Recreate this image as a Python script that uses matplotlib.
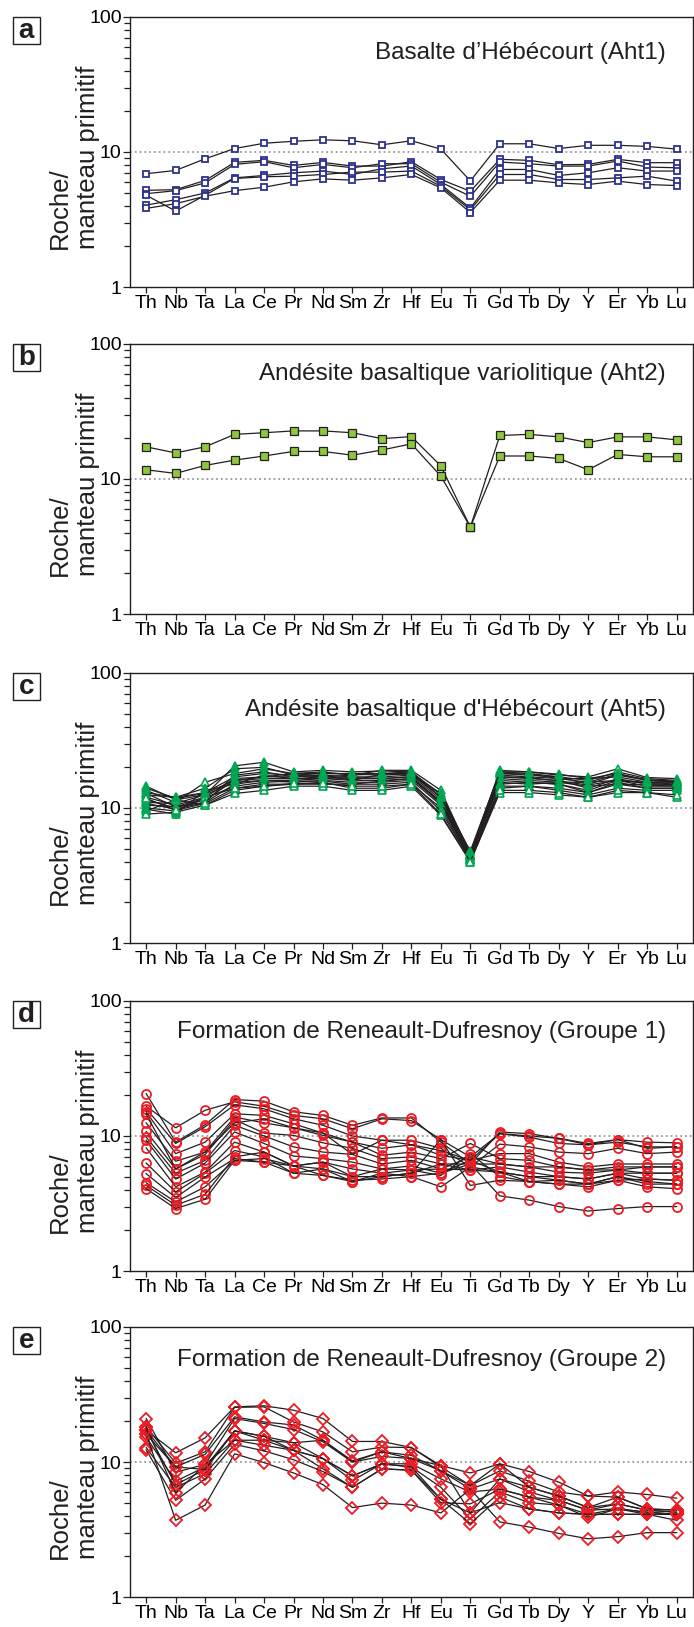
import matplotlib
matplotlib.use("Agg")
import matplotlib.pyplot as plt
import matplotlib.ticker as mt
from matplotlib.patches import Rectangle

plt.rcParams['font.family'] = ['Liberation Sans', 'DejaVu Sans']

elements = ["Th", "Nb", "Ta", "La", "Ce", "Pr", "Nd", "Sm", "Zr", "Hf",
            "Eu", "Ti", "Gd", "Tb", "Dy", "Y", "Er", "Yb", "Lu"]

titles = ["Basalte d\u2019Hébécourt (Aht1)",
          "Andésite basaltique variolitique (Aht2)",
          "Andésite basaltique d'Hébécourt (Aht5)",
          "Formation de Reneault-Dufresnoy (Groupe 1)",
          "Formation de Reneault-Dufresnoy (Groupe 2)"]
letters = ["a", "b", "c", "d", "e"]
ylabel = "Roche/\nmanteau primitif"

# a - Aht1
aht1 = [
    [6.9, 7.3, 8.9, 10.6, 11.6, 12.0, 12.3, 12.1, 11.3, 12.1, 10.5, 6.1, 11.5, 11.5, 10.6, 11.2, 11.2, 11.0, 10.5],
    [5.20, 5.26, 6.15, 8.37, 8.67, 7.95, 8.37, 7.86, 7.86, 8.47, 6.25, 5.12, 8.82, 8.67, 8.04, 8.09, 8.82, 8.33, 8.33],
    [4.91, 5.17, 5.90, 8.09, 8.47, 7.64, 8.09, 7.64, 8.18, 8.18, 5.97, 4.70, 8.42, 8.18, 7.86, 7.86, 8.57, 7.73, 7.64],
    [4.04, 4.43, 4.97, 6.43, 6.70, 7.01, 7.22, 6.81, 7.51, 7.86, 5.74, 3.84, 7.42, 7.42, 6.70, 7.01, 7.64, 7.22, 7.22],
    [4.78, 3.65, 4.78, 6.36, 6.55, 6.62, 6.81, 7.09, 7.09, 7.22, 5.57, 3.73, 6.81, 6.81, 6.25, 6.25, 6.43, 6.62, 6.08],
    [3.82, 4.14, 4.70, 5.17, 5.48, 6.01, 6.32, 6.18, 6.43, 6.81, 5.42, 3.56, 6.18, 6.18, 5.90, 5.74, 6.08, 5.74, 5.64],
]

# b - Aht2
aht2 = [
    [17.3, 15.6, 17.3, 21.4, 22.0, 22.7, 22.7, 22.0, 19.9, 20.6, 12.5, 4.4, 21.0, 21.4, 20.5, 18.6, 20.5, 20.5, 19.5],
    [11.7, 11.0, 12.6, 13.8, 14.8, 16.0, 16.0, 15.0, 16.4, 18.2, 10.5, 4.4, 14.8, 14.8, 14.2, 11.7, 15.2, 14.6, 14.6],
]

# c - Aht5
aht5 = [
    [14.5, 11.5, 12.5, 20.5, 21.8, 18.5, 19.0, 18.5, 18.8, 18.5, 12.5, 4.6, 18.5, 18.0, 17.0, 16.0, 18.5, 16.5, 16.0],
    [13.5, 11.0, 15.5, 18.0, 19.5, 18.0, 18.5, 17.5, 19.0, 19.0, 13.5, 4.5, 19.0, 18.5, 17.5, 17.0, 19.5, 16.8, 16.5],
    [12.5, 12.0, 13.0, 17.0, 18.0, 17.5, 18.0, 17.8, 17.5, 18.0, 12.0, 4.4, 18.0, 17.5, 17.0, 15.0, 17.5, 16.0, 15.5],
    [12.0, 10.5, 12.0, 16.5, 17.0, 17.0, 17.5, 17.0, 17.0, 17.5, 11.5, 4.4, 17.5, 17.0, 16.5, 16.5, 17.0, 15.5, 15.5],
    [11.5, 10.0, 11.5, 16.0, 16.5, 16.5, 17.0, 16.5, 16.5, 17.0, 11.0, 4.3, 17.0, 16.5, 16.0, 14.0, 16.5, 15.0, 15.0],
    [11.0, 10.8, 12.5, 15.5, 16.0, 16.0, 16.5, 16.0, 16.0, 16.5, 11.2, 4.3, 16.5, 16.0, 15.5, 15.5, 16.0, 15.2, 14.8],
    [10.8, 9.8, 11.0, 15.0, 16.0, 15.5, 16.0, 15.5, 15.5, 16.0, 10.5, 4.2, 16.0, 15.5, 15.0, 13.5, 16.0, 14.5, 14.5],
    [10.5, 10.2, 11.8, 14.5, 15.5, 15.8, 15.8, 15.0, 15.8, 16.5, 10.8, 4.2, 15.5, 15.0, 15.5, 14.5, 15.0, 14.8, 14.5],
    [10.0, 9.5, 12.0, 14.0, 15.0, 15.0, 15.5, 14.0, 14.0, 15.0, 10.0, 4.1, 14.5, 14.5, 14.0, 13.0, 15.0, 14.0, 14.0],
    [9.5, 11.5, 10.5, 13.5, 14.5, 15.0, 15.0, 15.0, 15.0, 15.5, 9.5, 4.1, 14.0, 14.5, 13.5, 12.5, 14.0, 13.5, 13.5],
    [9.0, 9.3, 10.5, 12.8, 13.5, 14.5, 14.5, 13.5, 13.5, 14.5, 8.8, 4.0, 13.0, 13.0, 12.5, 12.0, 13.0, 13.0, 12.0],
    [13.0, 12.0, 14.0, 19.5, 20.0, 17.5, 17.0, 17.5, 18.0, 18.0, 12.8, 4.7, 18.0, 17.8, 16.5, 15.5, 17.8, 16.2, 15.8],
    [9.8, 9.0, 13.5, 15.0, 17.5, 16.5, 16.5, 16.8, 16.5, 17.0, 11.0, 4.5, 17.0, 16.8, 15.8, 14.8, 16.0, 15.5, 15.0],
    [12.8, 10.2, 11.0, 17.5, 18.5, 17.0, 17.5, 16.0, 17.8, 17.8, 12.0, 4.6, 15.0, 15.5, 15.0, 13.0, 15.5, 14.0, 14.0],
    [11.8, 9.6, 10.8, 14.0, 14.5, 15.2, 15.2, 14.5, 14.5, 15.0, 9.0, 4.0, 13.5, 13.5, 13.0, 12.0, 13.5, 13.0, 12.5],
    [14.0, 11.8, 12.8, 16.0, 17.0, 18.0, 18.0, 18.0, 18.0, 18.5, 12.0, 4.8, 18.5, 18.5, 17.8, 16.5, 18.0, 16.0, 15.5],
]
aht5_open = [False, True, False, False, False, False, False, False, True, True, True, False, False, False, True, False]

# d - Reneault-Dufresnoy groupe 1
rd1 = [
    [20.6, 9.0, 12.1, 18.6, 18.1, 15.1, 14.2, 12.0, 13.6, 13.6, 9.0, 6.2, 10.7, 10.4, 9.6, 8.8, 9.4, 9.0, 8.9],
    [16.6, 11.5, 15.5, 17.9, 16.6, 14.2, 13.4, 11.3, 13.4, 13.0, 9.4, 7.0, 10.4, 9.8, 8.8, 8.6, 9.4, 8.1, 8.3],
    [15.9, 8.8, 11.7, 17.0, 15.9, 13.4, 12.0, 10.0, 9.3, 9.3, 8.1, 5.9, 8.7, 8.3, 7.6, 7.4, 8.1, 7.4, 7.6],
    [15.1, 7.4, 9.0, 14.6, 14.2, 12.3, 10.5, 9.0, 8.1, 8.6, 7.2, 6.6, 7.4, 7.4, 6.4, 5.9, 6.2, 6.2, 6.2],
    [12.5, 6.5, 7.6, 13.8, 12.5, 11.5, 10.1, 9.0, 7.2, 7.6, 6.8, 8.8, 6.8, 6.6, 5.9, 5.6, 5.9, 5.9, 5.9],
    [10.8, 5.7, 7.3, 13.2, 10.5, 10.1, 8.9, 8.1, 6.8, 7.0, 6.2, 6.2, 6.2, 5.9, 5.4, 5.3, 5.6, 5.3, 5.3],
    [9.8, 5.3, 6.6, 12.0, 10.0, 8.3, 7.6, 7.3, 6.2, 6.6, 5.7, 5.6, 5.9, 5.4, 5.0, 4.8, 5.3, 4.8, 4.7],
    [9.3, 4.8, 6.3, 10.7, 8.8, 7.1, 6.8, 6.4, 5.7, 6.0, 5.3, 6.6, 5.4, 5.0, 4.7, 4.4, 5.0, 4.4, 4.4],
    [8.15, 4.2, 5.4, 9.0, 7.6, 6.0, 6.4, 5.7, 5.3, 5.6, 5.1, 7.4, 5.0, 4.6, 4.4, 4.2, 4.7, 4.2, 4.07],
    [6.3, 3.85, 5.3, 7.8, 7.0, 5.3, 5.7, 5.0, 5.0, 5.3, 9.4, 4.3, 4.7, 4.6, 4.4, 4.4, 4.7, 4.8, 4.7],
    [5.26, 3.5, 4.97, 6.8, 6.4, 5.3, 5.1, 4.7, 4.8, 5.0, 5.3, 6.2, 3.6, 3.35, 3.0, 2.78, 2.9, 3.0, 3.0],
    [4.5, 3.25, 4.2, 6.6, 6.4, 6.0, 5.7, 4.6, 5.3, 5.0, 4.2, 5.9, 5.4, 5.0, 5.0, 4.8, 5.3, 5.3, 5.3],
    [4.3, 3.07, 3.7, 7.0, 7.6, 6.0, 6.4, 5.0, 5.7, 5.6, 5.7, 7.0, 6.2, 5.9, 5.9, 5.6, 5.6, 5.9, 5.9],
    [4.07, 2.9, 3.4, 6.6, 6.8, 6.0, 5.1, 4.6, 5.0, 5.3, 6.2, 5.6, 5.4, 4.6, 4.7, 4.4, 5.0, 4.6, 4.4],
    [14.5, 5.7, 7.6, 12.5, 13.4, 11.5, 10.5, 7.3, 9.3, 8.6, 7.8, 6.6, 10.4, 10.0, 9.6, 8.6, 9.0, 8.3, 8.3],
]

# e - Reneault-Dufresnoy groupe 2
rd2 = [
    [17.2, 11.7, 15.1, 25.6, 26.1, 24.2, 21.0, 14.2, 14.2, 12.8, 9.4, 8.3, 9.7, 8.5, 7.1, 5.6, 6.0, 5.75, 5.4],
    [18.2, 9.8, 11.9, 25.4, 25.6, 19.8, 16.7, 11.9, 12.9, 12.8, 9.2, 6.7, 8.6, 7.2, 6.0, 5.6, 5.5, 4.5, 4.4],
    [16.1, 9.2, 11.4, 21.6, 19.8, 18.8, 14.5, 10.2, 11.9, 11.2, 8.6, 6.3, 7.5, 6.5, 5.6, 4.6, 4.9, 4.4, 4.25],
    [21.0, 8.4, 9.6, 21.0, 19.3, 17.4, 14.1, 10.0, 11.0, 10.6, 9.4, 4.2, 7.5, 6.0, 5.2, 4.4, 4.5, 4.25, 4.1],
    [15.3, 7.2, 9.2, 17.0, 15.5, 13.9, 10.6, 7.9, 9.7, 9.7, 7.5, 6.0, 6.3, 5.5, 5.2, 4.4, 4.9, 4.4, 4.25],
    [17.2, 6.8, 8.8, 17.0, 14.5, 12.2, 10.6, 7.3, 9.7, 9.2, 6.5, 3.8, 6.0, 5.0, 4.8, 4.1, 4.5, 4.1, 4.1],
    [12.8, 6.5, 8.2, 14.5, 13.3, 12.2, 8.9, 6.5, 8.9, 8.7, 5.3, 3.5, 5.5, 4.5, 4.2, 4.1, 4.1, 4.1, 3.7],
    [12.3, 5.2, 7.5, 13.5, 12.1, 10.4, 8.5, 6.5, 8.9, 8.7, 5.0, 4.9, 6.3, 5.5, 4.8, 3.9, 4.5, 4.25, 4.1],
    [16.1, 3.7, 4.8, 11.5, 9.9, 8.3, 6.8, 4.6, 4.96, 4.8, 4.2, 6.3, 3.6, 3.3, 2.96, 2.7, 2.8, 3.0, 3.0],
    [18.2, 5.9, 9.6, 14.5, 14.5, 13.9, 14.5, 10.0, 11.9, 10.6, 8.6, 6.7, 9.7, 6.5, 5.6, 4.6, 5.5, 4.5, 4.4],
    [17.2, 9.2, 8.8, 17.0, 15.5, 12.2, 10.6, 7.9, 9.7, 9.2, 5.3, 4.2, 5.0, 4.5, 4.2, 4.1, 4.1, 4.1, 4.1],
]

blue = "#2e3192"
lime = "#8dc63f"
green = "#00a651"
red = "#ed1c24"

fig = plt.figure(figsize=(6.94, 16.27), dpi=100)

bottoms = [0.8236, 0.6226, 0.4204, 0.2188, 0.0184]
title_y = [0.845, 0.867, 0.84, 0.863, 0.856]
axes = [fig.add_axes([0.1873, b, 0.811, 0.166]) for b in bottoms]

x = list(range(len(elements)))

# a
for row in aht1:
    axes[0].plot(x, row, color="#231f20", lw=0.9, marker="s", ms=5,
                 mfc="white", mec=blue, mew=1.3, zorder=3)
# b
for row in aht2:
    axes[1].plot(x, row, color="#231f20", lw=0.9, marker="s", ms=5.5,
                 mfc=lime, mec="#231f20", mew=0.9, zorder=3)
# c
for row, hollow in zip(aht5, aht5_open):
    axes[2].plot(x, row, color="#231f20", lw=0.9, marker="^", ms=6,
                 mfc="white" if hollow else green, mec=green, mew=1.2, zorder=3)
# d
for row in rd1:
    axes[3].plot(x, row, color="#231f20", lw=0.9, marker="o", ms=6.5,
                 mfc="none", mec=red, mew=1.3, zorder=3)
# e
for row in rd2:
    axes[4].plot(x, row, color="#231f20", lw=0.9, marker="D", ms=6,
                 mfc="none", mec=red, mew=1.3, zorder=3)

for i, ax in enumerate(axes):
    ax.set_yscale("log")
    ax.set_ylim(1, 100)
    ax.set_xlim(-0.55, 18.55)
    ax.axhline(10, color="#9a9a9a", ls=":", lw=1.3, zorder=1)
    ax.set_xticks(x)
    ax.set_xticklabels(elements)
    ax.yaxis.set_major_locator(mt.FixedLocator([1, 10, 100]))
    ax.yaxis.set_major_formatter(mt.FixedFormatter(["1", "10", "100"]))
    ax.yaxis.set_minor_locator(mt.LogLocator(base=10, subs=range(2, 10)))
    ax.yaxis.set_minor_formatter(mt.NullFormatter())
    ax.tick_params(axis="x", length=4, width=0.9, pad=2, labelsize=14, color="#231f20")
    ax.tick_params(axis="y", which="major", length=5, width=0.9, pad=1, labelsize=14, color="#231f20")
    ax.tick_params(axis="y", which="minor", length=4, width=0.9, color="#231f20")
    for s in ax.spines.values():
        s.set_linewidth(1.0)
        s.set_color("#231f20")
    ax.text(0.952, title_y[i], titles[i], transform=ax.transAxes, ha="right",
            va="baseline", fontsize=17.5, color="#231f20")
    ax.text(-0.10, 0.48, ylabel, transform=ax.transAxes, rotation=90,
            ha="center", va="center", multialignment="left", fontsize=18.5,
            color="#231f20")
    ax.add_patch(Rectangle((-0.2087, 0.9), 0.0488, 0.1, transform=ax.transAxes,
                           fill=False, ec="#231f20", lw=1.0, clip_on=False))
    ax.text(-0.1843, 0.948, letters[i], transform=ax.transAxes, ha="center",
            va="center", fontsize=20, fontweight="bold", color="#231f20")

fig.savefig("out.png", dpi=100)
